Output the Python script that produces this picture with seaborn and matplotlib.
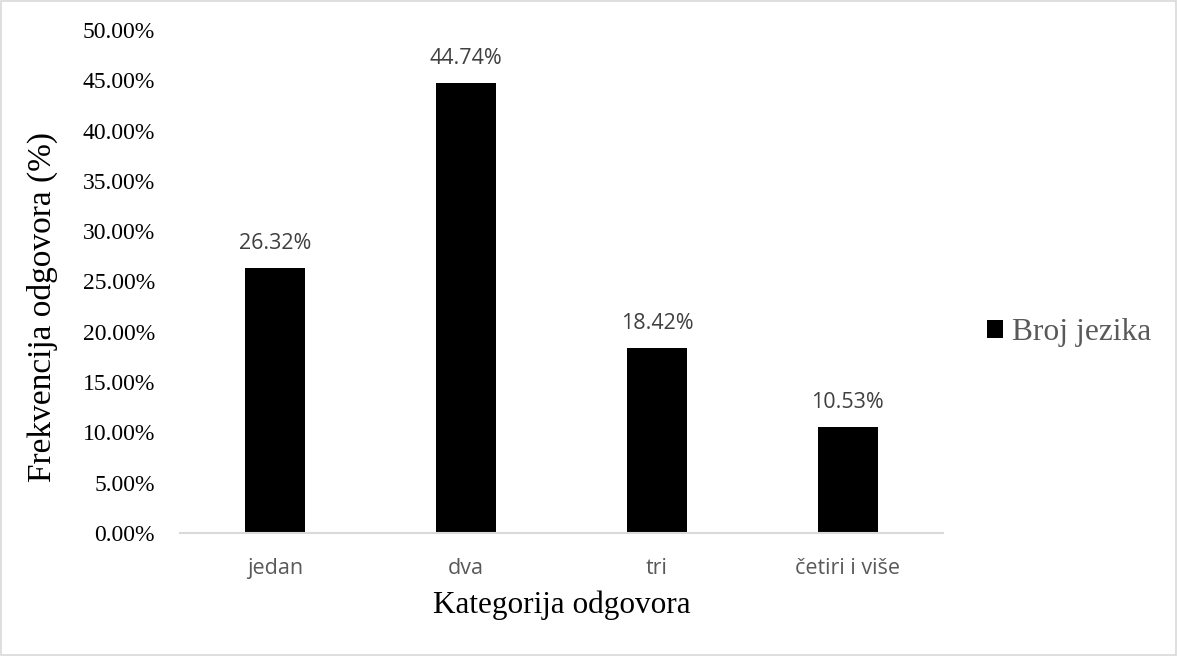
import matplotlib
matplotlib.use("Agg")
import matplotlib.pyplot as plt
import seaborn as sns
from matplotlib.patches import Patch, Rectangle
from matplotlib.ticker import FuncFormatter, MultipleLocator

categories = ["jedan", "dva", "tri", "četiri i više"]
values = [0.2632, 0.4474, 0.1842, 0.1053]
series_name = "Broj jezika"
x_title = "Kategorija odgovora"
y_title = "Frekvencija odgovora (%)"

sns.set_theme(style="white")
plt.rcParams["font.family"] = ["Liberation Serif", "DejaVu Serif"]

fig = plt.figure(figsize=(11.78, 6.56), dpi=100)
ax = fig.add_axes([180/1178, 1-533/656, (943-180)/1178, (533-30)/656])

sns.barplot(x=categories, y=values, color="black", width=0.315, ax=ax,
            saturation=1, edgecolor="none")

ax.set_ylim(0, 0.5)
ax.yaxis.set_major_locator(MultipleLocator(0.05))
ax.yaxis.set_major_formatter(FuncFormatter(lambda v, p: f"{v*100:.2f}%"))
ax.set_xlim(-0.5, len(categories) - 0.5)

for s in ["top", "right", "left"]:
    ax.spines[s].set_visible(False)
ax.spines["bottom"].set_color("#d9d9d9")
ax.spines["bottom"].set_linewidth(1.5)
ax.tick_params(axis="both", length=0)
ax.tick_params(axis="y", pad=18, labelsize=17, labelcolor="black")
ax.tick_params(axis="x", pad=18)
for lab in ax.get_yticklabels():
    lab.set_fontfamily("Liberation Serif")
for lab in ax.get_xticklabels():
    lab.set_fontfamily("Open Sans")
    lab.set_fontsize(15.5)
    lab.set_color("#595959")

cont = ax.containers[0]
ax.bar_label(cont, labels=[f"{v*100:.2f}%" for v in values], padding=10,
             fontsize=15.5, color="#404040", family="Open Sans")

ax.set_xlabel(x_title, fontsize=22.5, color="black")
ax.set_ylabel(y_title, fontsize=24, color="black")
ax.yaxis.set_label_coords(-(180-42)/763, (533-307)/503)
ax.xaxis.set_label_coords(0.5, -(605-533)/503)
ax.xaxis.label.set_verticalalignment("center")
ax.yaxis.label.set_verticalalignment("center")

handle = Patch(facecolor="black", edgecolor="none", label=series_name)
leg = fig.legend(handles=[handle], loc="center left",
                 bbox_to_anchor=(987/1178, 1-333/656), frameon=False,
                 fontsize=22.7, handlelength=0.5, handleheight=0.5,
                 handletextpad=0.3, borderpad=0, borderaxespad=0)
for t in leg.get_texts():
    t.set_color("#595959")

fig.patches.append(Rectangle((0.001, 0.002), 0.997, 0.996, transform=fig.transFigure,
                             fill=False, edgecolor="#d9d9d9", linewidth=1.2))

fig.savefig("out.png", dpi=100, facecolor="white")
